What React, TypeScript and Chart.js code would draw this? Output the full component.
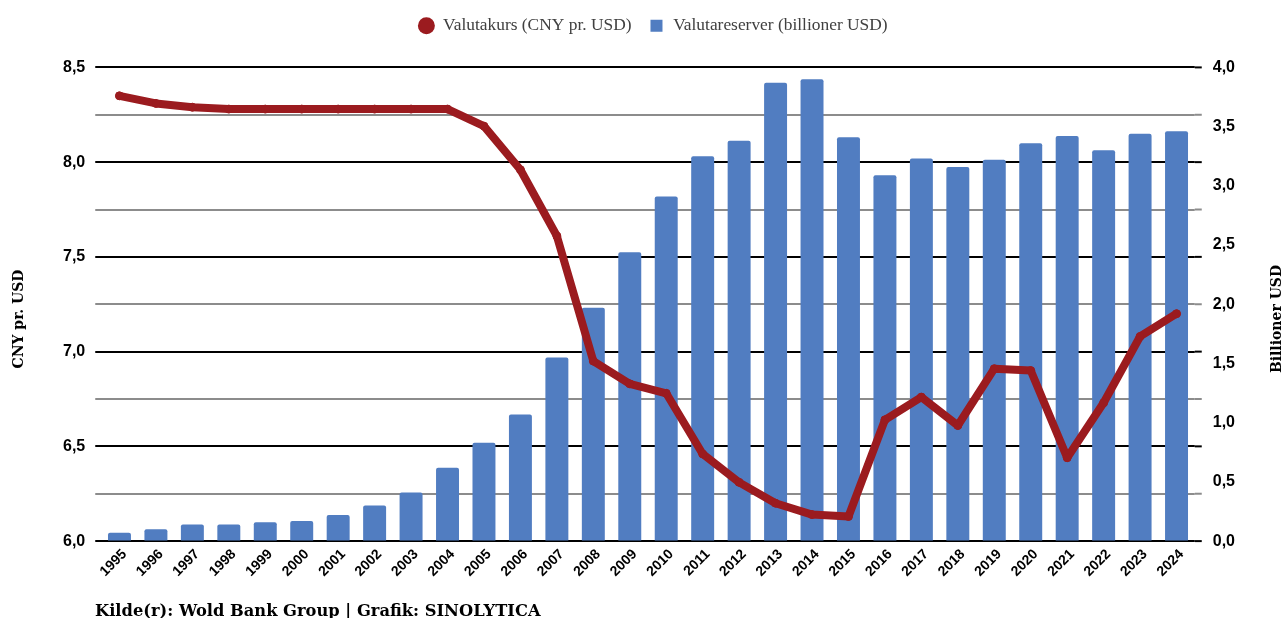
import React, { useEffect, useRef } from "react";
import { Chart, registerables } from "chart.js";

Chart.register(...registerables);

const years = [
  "1995", "1996", "1997", "1998", "1999", "2000", "2001", "2002", "2003", "2004",
  "2005", "2006", "2007", "2008", "2009", "2010", "2011", "2012", "2013", "2014",
  "2015", "2016", "2017", "2018", "2019", "2020", "2021", "2022", "2023", "2024",
];

const exchangeRate = [
  8.35, 8.31, 8.29, 8.28, 8.28, 8.28, 8.28, 8.28, 8.28, 8.28,
  8.19, 7.96, 7.61, 6.95, 6.83, 6.78, 6.46, 6.31, 6.2, 6.14,
  6.13, 6.64, 6.76, 6.61, 6.91, 6.9, 6.44, 6.73, 7.08, 7.2,
];

const reserves = [
  0.07, 0.1, 0.14, 0.14, 0.16, 0.17, 0.22, 0.3, 0.41, 0.62,
  0.83, 1.07, 1.55, 1.97, 2.44, 2.91, 3.25, 3.38, 3.87, 3.9,
  3.41, 3.09, 3.23, 3.16, 3.22, 3.36, 3.42, 3.3, 3.44, 3.46,
];

const leftAxis = { min: 6, max: 8.5, step: 0.25 };
const rightAxis = { min: 0, max: 4, step: 0.5 };

const leftTitle = "CNY pr. USD";
const rightTitle = "Billioner USD";
const lineLabel = "Valutakurs (CNY pr. USD)";
const barLabel = "Valutareserver (billioner USD)";
const sourceText = "Kilde(r): Wold Bank Group | Grafik: SINOLYTICA";

const RED = "#9b1b1f";
const BLUE = "#517dc1";
const GRAY = "#8c8c8c";

const fmt = (v: number) => v.toFixed(1).replace(".", ",");
const isMajor = (v: number) => Math.abs(v * 2 - Math.round(v * 2)) < 1e-6;

export default function App() {
  const ref = useRef<HTMLCanvasElement | null>(null);

  useEffect(() => {
    document.body.style.margin = "0";
    const canvas = ref.current;
    if (!canvas) return;

    const legendMargin = {
      id: "legendMargin",
      beforeInit(chart: any) {
        const orig = chart.legend.fit;
        chart.legend.fit = function () {
          orig.bind(chart.legend)();
          this.height += 23;
        };
      },
    };

    const extras = {
      id: "extras",
      afterDraw(chart: any) {
        const { ctx, chartArea, scales } = chart;
        const y = scales.y;
        ctx.save();
        y.ticks.forEach((t: any) => {
          const py = y.getPixelForValue(t.value);
          ctx.beginPath();
          ctx.strokeStyle = isMajor(t.value) ? "#000" : GRAY;
          ctx.lineWidth = 2;
          ctx.moveTo(chartArea.right, py);
          ctx.lineTo(chartArea.right + 7, py);
          ctx.stroke();
        });
        ctx.fillStyle = "#000";
        ctx.font = "bold 14px 'DejaVu Serif'";
        ctx.textAlign = "center";
        ctx.textBaseline = "middle";
        const cy = 319;
        ctx.save();
        ctx.translate(19, cy);
        ctx.rotate(-Math.PI / 2);
        ctx.fillText(leftTitle, 0, 0);
        ctx.restore();
        ctx.save();
        ctx.translate(1277, cy);
        ctx.rotate(-Math.PI / 2);
        ctx.fillText(rightTitle, 0, 0);
        ctx.restore();
        ctx.restore();
      },
    };

    const chart = new Chart(canvas, {
      type: "bar",
      data: {
        labels: years,
        datasets: [
          {
            type: "line",
            label: lineLabel,
            data: exchangeRate,
            yAxisID: "y",
            borderColor: RED,
            backgroundColor: RED,
            borderWidth: 8,
            pointRadius: 4,
            pointBorderWidth: 1,
            pointBackgroundColor: RED,
            pointBorderColor: RED,
            pointStyle: "circle",
            borderCapStyle: "round",
            borderJoinStyle: "round",
            tension: 0,
            order: 0,
          } as any,
          {
            type: "bar",
            label: barLabel,
            data: reserves,
            yAxisID: "y1",
            backgroundColor: BLUE,
            borderRadius: 2,
            borderSkipped: "bottom",
            barPercentage: 0.63,
            categoryPercentage: 1,
            pointStyle: "rect",
            order: 1,
          } as any,
        ],
      },
      options: {
        animation: false,
        responsive: true,
        maintainAspectRatio: false,
        layout: { padding: { left: 53, right: 31, top: 0, bottom: 41 } },
        plugins: {
          legend: {
            position: "top",
            labels: {
              usePointStyle: true,
              boxWidth: 16,
              boxHeight: 12,
              padding: 17,
              color: "#404040",
              font: { family: "'Liberation Serif'", size: 17.4 },
              generateLabels(chart: any) {
                const items = Chart.defaults.plugins.legend.labels.generateLabels(chart);
                items.forEach((it: any) => {
                  it.lineWidth = 0;
                  it.strokeStyle = "rgba(0,0,0,0)";
                });
                return items;
              },
            },
          },
          tooltip: { enabled: false },
        },
        scales: {
          x: {
            grid: { display: false },
            border: { display: false },
            ticks: {
              color: "#000",
              font: { family: "'Liberation Sans'", size: 14, weight: "bold" },
              maxRotation: 45,
              minRotation: 45,
              padding: -3,
              labelOffset: 5,
            },
          },
          y: {
            position: "left",
            min: leftAxis.min,
            max: leftAxis.max,
            border: { display: false },
            grid: {
              color: (c: any) => (isMajor(c.tick.value) ? "#000" : GRAY),
              lineWidth: 2,
              tickLength: 6,
            },
            ticks: {
              stepSize: leftAxis.step,
              color: "#000",
              padding: 10,
              font: { family: "'Liberation Sans'", size: 16, weight: "bold" },
              callback: (v: any) => (isMajor(Number(v)) ? fmt(Number(v)) : ""),
            },
          },
          y1: {
            position: "right",
            min: rightAxis.min,
            max: rightAxis.max,
            border: { display: false },
            grid: { drawOnChartArea: false, drawTicks: false },
            ticks: {
              stepSize: rightAxis.step,
              color: "#000",
              padding: 18,
              font: { family: "'Liberation Sans'", size: 16, weight: "bold" },
              callback: (v: any) => fmt(Number(v)),
            },
          },
        },
      },
      plugins: [legendMargin, extras],
    } as any);

    return () => chart.destroy();
  }, []);

  return (
    <div style={{ position: "relative", width: 1284, height: 618, overflow: "hidden" }}>
      <canvas ref={ref} />
      <div
        style={{
          position: "absolute",
          left: 95,
          top: 603,
          fontFamily: "'DejaVu Serif', serif",
          fontWeight: "bold",
          fontSize: 16.3,
          lineHeight: "16px",
          color: "#000",
          whiteSpace: "nowrap",
        }}
      >
        {sourceText}
      </div>
    </div>
  );
}
